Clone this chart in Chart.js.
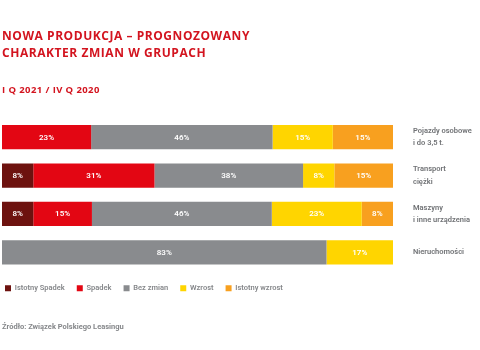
<!DOCTYPE html>
<html>
<head>
<meta charset="utf-8">
<script src="https://cdn.jsdelivr.net/npm/chart.js@4"></script>
<style>
  html, body { margin: 0; padding: 0; background: #fff; }
  #wrap { position: relative; width: 480px; height: 350px; overflow: hidden; }
  #c { position: absolute; left: 0; top: 0; }
  .t { position: absolute; left: 2px; font-family: "Open Sans", sans-serif; font-weight: 700; white-space: nowrap; }
  #title { top: 28px; font-size: 12px; line-height: 16.5px; color: #d3141f; letter-spacing: 0.55px; }
  #sub { top: 84px; font-size: 9.5px; line-height: 12px; color: #d3141f; letter-spacing: 0.4px; }
  #src { top: 322px; font-size: 7.5px; line-height: 10px; color: #85878a; font-family: Roboto, sans-serif; }
</style>
</head>
<body>
<div id="wrap">
  <canvas id="c" width="480" height="350"></canvas>
  <div class="t" id="title">NOWA PRODUKCJA – PROGNOZOWANY<br>CHARAKTER ZMIAN W GRUPACH</div>
  <div class="t" id="sub">I Q 2021 / IV Q 2020</div>
  <div class="t" id="src">Źródło: Związek Polskiego Leasingu</div>
</div>
<script>
const categories = [
  ["Pojazdy osobowe", "i do 3,5 t."],
  ["Transport", "ciężki"],
  ["Maszyny", "i inne urządzenia"],
  ["Nieruchomości"]
];
const seriesNames = ["Istotny Spadek", "Spadek", "Bez zmian", "Wzrost", "Istotny wzrost"];
const istotnySpadek = [0, 8, 8, 0];
const spadek        = [22.8, 31, 15, 0];
const bezZmian      = [46.4, 38, 46, 83];
const wzrost        = [15.4, 8, 23, 17];
const istotnyWzrost = [15.4, 15, 8, 0];
const seriesColors = ["#6d120f", "#e30613", "#898b8e", "#ffd500", "#f8a01f"];

const seriesData = [istotnySpadek, spadek, bezZmian, wzrost, istotnyWzrost];

const barLabels = {
  id: 'barLabels',
  afterDatasetsDraw(chart) {
    const ctx = chart.ctx;
    ctx.save();
    ctx.font = '600 8px Roboto, sans-serif';
    ctx.fillStyle = '#ffffff';
    ctx.textAlign = 'center';
    ctx.textBaseline = 'middle';
    chart.data.datasets.forEach((ds, di) => {
      const meta = chart.getDatasetMeta(di);
      meta.data.forEach((bar, i) => {
        const v = ds.data[i];
        if (!v) return;
        const p = bar.getProps(['x', 'y', 'base'], true);
        ctx.fillText(Math.round(v) + '%', (p.x + p.base) / 2, p.y + 0.5);
      });
    });
    ctx.restore();
  }
};

const legendShift = {
  id: 'legendShift',
  afterLayout(chart) {
    const lg = chart.legend;
    lg.left -= 9; lg.right -= 9;
    lg.top += 1; lg.bottom += 1;
  }
};

new Chart(document.getElementById('c'), {
  type: 'bar',
  data: {
    labels: categories,
    datasets: seriesData.map((d, i) => ({
      label: seriesNames[i],
      data: d,
      backgroundColor: seriesColors[i],
      borderWidth: 0,
      barPercentage: 0.635,
      categoryPercentage: 1
    }))
  },
  options: {
    indexAxis: 'y',
    responsive: false,
    animation: false,
    layout: { padding: { top: 118, left: 2, bottom: 49, right: 0 } },
    scales: {
      x: { stacked: true, min: 0, max: 100, display: false },
      y: {
        stacked: true,
        position: 'right',
        grid: { display: false, drawTicks: false },
        border: { display: false },
        ticks: {
          padding: 20,
          color: '#6f7174',
          font: { family: 'Roboto, sans-serif', size: 7.5, weight: '600', lineHeight: 1.65 },
          align: 'center'
        },
        afterFit(scale) { scale.width = 87; }
      }
    },
    plugins: {
      legend: {
        position: 'bottom',
        align: 'start',
        labels: {
          boxWidth: 6,
          boxHeight: 6,
          padding: 12,
          color: '#85878a',
          font: { family: 'Roboto, sans-serif', size: 7.5, weight: '600' }
        }
      },
      tooltip: { enabled: false },
      title: { display: false }
    }
  },
  plugins: [barLabels, legendShift]
});
</script>
</body>
</html>
